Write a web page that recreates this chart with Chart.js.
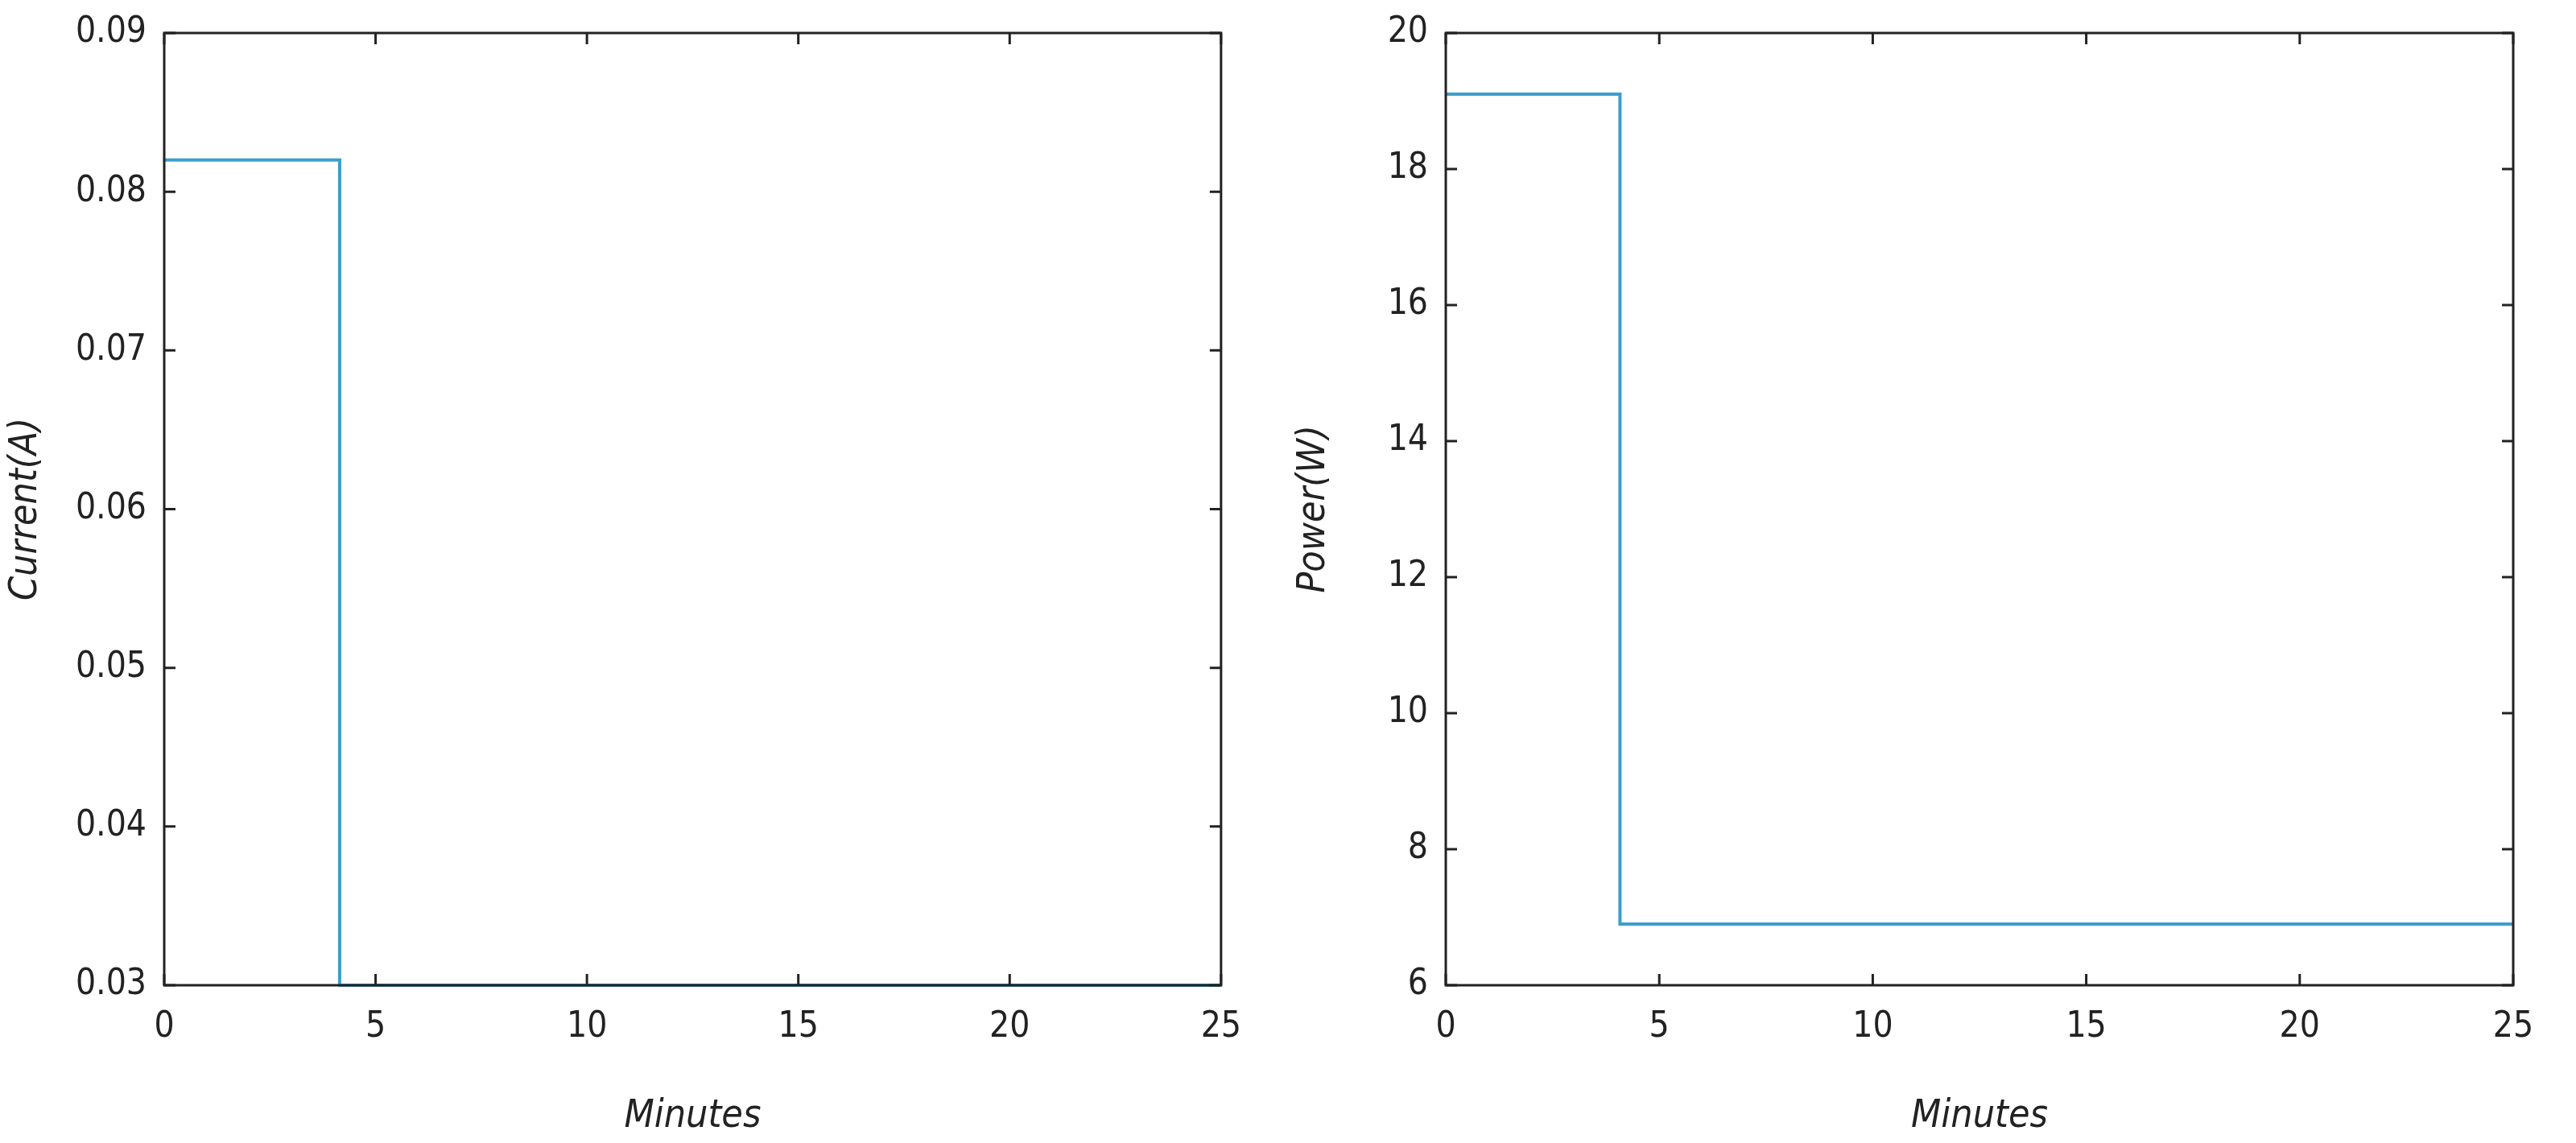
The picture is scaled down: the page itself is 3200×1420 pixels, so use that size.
<!DOCTYPE html>
<html>
<head>
<meta charset="utf-8">
<script src="https://cdn.jsdelivr.net/npm/chart.js@4"></script>
<style>
  body { margin: 0; background: #fff; }
  .box { position: absolute; top: 0; height: 1420px; }
</style>
</head>
<body>
<div class="box" style="left:0;width:1560px"><canvas id="cur"></canvas></div>
<div class="box" style="left:1600px;width:1600px"><canvas id="pow"></canvas></div>
<script>
// step corners: time in minutes
const curMinutes = [0, 4.15, 4.15, 25];
const currentA = [0.082, 0.082, 0.03, 0.03];
const powMinutes = [0, 4.08, 4.08, 25];
const powerW = [19.1, 19.1, 6.9, 6.9];
const xTicks = [0, 5, 10, 15, 20, 25];
const curTicks = [0.03, 0.04, 0.05, 0.06, 0.07, 0.08, 0.09];
const powTicks = [6, 8, 10, 12, 14, 16, 18, 20];

const tickFont = { family: 'DejaVu Sans Condensed, DejaVu Sans', size: 44 };
const titleFont = { family: 'DejaVu Sans Condensed, DejaVu Sans', size: 48, style: 'italic' };

// box around plot area with inward ticks on all four sides
const boxPlugin = {
  id: 'box',
  afterDraw(chart) {
    const { ctx, chartArea: a, scales } = chart;
    ctx.save();
    ctx.strokeStyle = '#222';
    ctx.lineWidth = 3;
    ctx.strokeRect(a.left, a.top, a.right - a.left, a.bottom - a.top);
    const len = 14;
    scales.x.ticks.forEach(t => {
      const px = scales.x.getPixelForValue(t.value);
      ctx.beginPath();
      ctx.moveTo(px, a.bottom); ctx.lineTo(px, a.bottom - len);
      ctx.moveTo(px, a.top); ctx.lineTo(px, a.top + len);
      ctx.stroke();
    });
    scales.y.ticks.forEach(t => {
      const py = scales.y.getPixelForValue(t.value);
      ctx.beginPath();
      ctx.moveTo(a.left, py); ctx.lineTo(a.left + len, py);
      ctx.moveTo(a.right, py); ctx.lineTo(a.right - len, py);
      ctx.stroke();
    });
    ctx.restore();
  }
};

function makeChart(id, xs, ys, yMin, yMax, yTicks, yTitle, yWidth, padRight, digits) {
  const pts = xs.map((m, i) => ({ x: m, y: ys[i] }));
  return new Chart(document.getElementById(id), {
    type: 'scatter',
    data: {
      datasets: [{
        data: pts,
        showLine: true,
        borderColor: '#3a9fcc',
        borderWidth: 4,
        pointRadius: 0,
        fill: false,
        clip: false
      }]
    },
    options: {
      responsive: true,
      maintainAspectRatio: false,
      animation: false,
      layout: { padding: { top: 41, right: padRight, left: 0, bottom: 0 } },
      plugins: { legend: { display: false }, tooltip: { enabled: false } },
      scales: {
        x: {
          type: 'linear', min: 0, max: 25,
          afterBuildTicks: s => { s.ticks = xTicks.map(v => ({ value: v })); },
          afterFit: s => { s.height = 196; },
          grid: { display: false },
          border: { display: false },
          ticks: { font: tickFont, color: '#222', padding: 18 },
          title: { display: true, text: 'Minutes', font: titleFont, color: '#222', padding: { top: 14 } }
        },
        y: {
          min: yMin, max: yMax,
          afterBuildTicks: s => { s.ticks = yTicks.map(v => ({ value: v })); },
          afterFit: s => { s.width = yWidth; },
          grid: { display: false },
          border: { display: false },
          ticks: { font: tickFont, color: '#222', padding: 14,
                   callback: v => v.toFixed(digits) },
          title: { display: true, text: yTitle, font: titleFont, color: '#222' }
        }
      }
    },
    plugins: [boxPlugin]
  });
}

makeChart('cur', curMinutes, currentA, 0.03, 0.09, curTicks, 'Current(A)', 204, 23, 2);
makeChart('pow', powMinutes, powerW, 6, 20, powTicks, 'Power(W)', 196, 78, 0);
</script>
</body>
</html>
